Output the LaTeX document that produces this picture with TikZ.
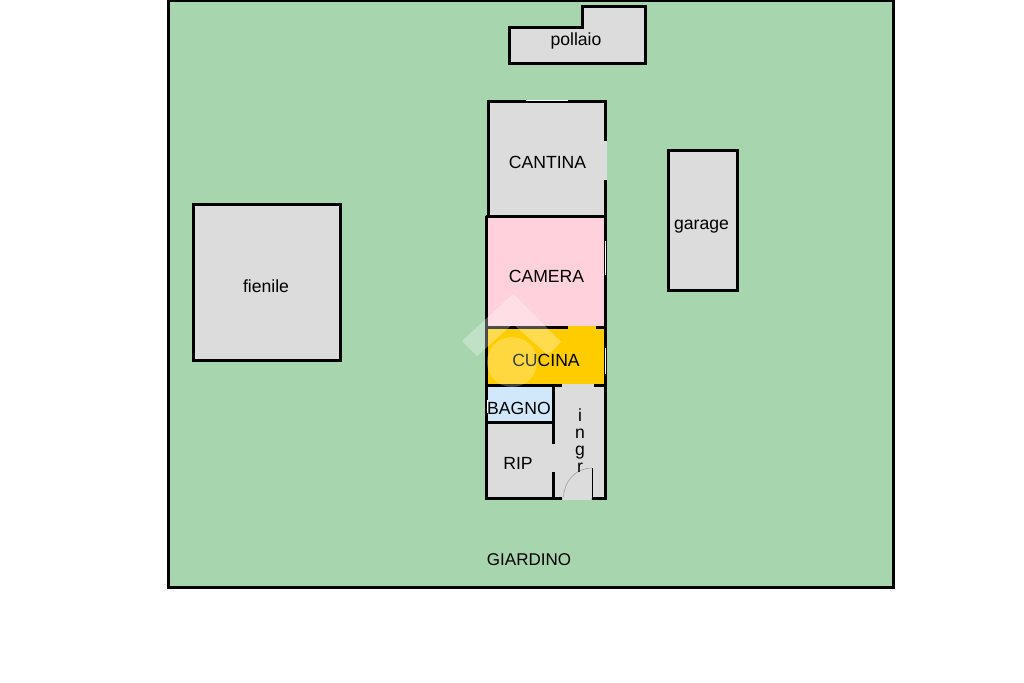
\documentclass[tikz,border=0pt]{standalone}
\usepackage{fontspec}
\setmainfont{Liberation Sans}
\definecolor{garden}{RGB}{167,213,174}
\definecolor{room}{RGB}{220,220,220}
\definecolor{pinkroom}{RGB}{255,209,220}
\definecolor{yellowroom}{RGB}{255,204,0}
\definecolor{blueroom}{RGB}{208,232,250}
\tikzset{
  wall/.style={line width=3pt,draw=black,line join=miter},
  lab/.style={font=\fontsize{17.6}{20}\selectfont,text=black,inner sep=0pt},
}
\begin{document}
\begin{tikzpicture}[x=1pt,y=-1pt]
\useasboundingbox (0,0) rectangle (1024,682);
\fill[white] (0,0) rectangle (1024,682);
% garden
\draw[wall,fill=garden] (168.5,0.5) rectangle (893,587);
% outbuildings
\draw[wall,fill=room] (509.5,27.5) -- (582.5,27.5) -- (582.5,6.5) -- (645,6.5) -- (645,63.5) -- (509.5,63.5) -- cycle;
\draw[wall,fill=room] (193.5,204) rectangle (340.5,360);
\draw[wall,fill=room] (668.5,150) rectangle (737.5,290.5);
% rooms
\fill[room] (488,102) rectangle (605,216);
\fill[pinkroom] (487,216) rectangle (605,327);
\fill[yellowroom] (487,325.5) rectangle (605,385);
\fill[blueroom] (487,385) rectangle (553,422);
\fill[room] (487,422) rectangle (553,498);
\fill[room] (553,383.5) rectangle (605,498);
% walls
\draw[wall] (488,216) -- (488,101.5) -- (605.5,101.5) -- (605.5,216);
\draw[line width=3pt] (485.5,216) -- (606.5,216);
\draw[line width=3pt] (486.8,216) -- (486.8,499.5);
\draw[line width=3pt] (605,216) -- (605,499.5);
\draw[line width=3pt] (486,327) -- (568,327);
\draw[line width=3pt] (596,327) -- (606,327);
\draw[line width=3pt] (486,385) -- (562,385);
\draw[line width=3pt] (594,385) -- (606,385);
\draw[line width=3pt] (486,422) -- (553,422);
\draw[line width=3pt] (553.5,385) -- (553.5,444);
\draw[line width=3pt] (553.5,472) -- (553.5,499.5);
\draw[line width=3pt] (485.5,498) -- (562,498);
\draw[line width=3pt] (592,498) -- (606.5,498);
% openings
\draw[white,line width=0.8pt] (526,100.6) -- (568,100.6);
\draw[room,line width=3.4pt] (605.6,141) -- (605.6,180);
\draw[white,line width=1pt] (605,241) -- (605,275);
\draw[white,line width=1pt] (605,348) -- (605,374);
\draw[white,line width=1pt] (487,400) -- (487,413);
\draw[room,line width=3pt] (563,498) -- (591,498);
% door
\draw[line width=1.2pt] (592.5,468) -- (592.5,497);
\draw[gray!70,line width=0.7pt] (592,468) .. controls (576,468) and (564,481) .. (563.5,497);
% labels
\node[lab] (lp) at (576,40.5) {pollaio};
\node[lab] (lc) at (547.5,162.5) {CANTINA};
\node[lab] (lca) at (546.5,276.5) {CAMERA};
\node[lab] (lcu) at (546,360.5) {CUCINA};
\node[lab] (lb) at (519,408.5) {BAGNO};
\node[lab] (lr) at (518,463.5) {RIP};
\node[lab] (lf) at (266,286) {fienile};
\node[lab] (lg) at (701.5,227) {garage};
\node[lab,font=\fontsize{17}{20}\selectfont] (lgi) at (529,559.5) {GIARDINO};
\node[lab,font=\fontsize{17.6}{17}\selectfont,align=center] (li) at (580,441) {i\\n\\g\\r};
% watermark
\fill[white,opacity=0.3] (513,294) -- (561,342) -- (548,355) -- (513,324) -- (477,356) -- (462,341) -- cycle;
\fill[white,opacity=0.25] (512,362) circle (25);
\end{tikzpicture}
\end{document}
